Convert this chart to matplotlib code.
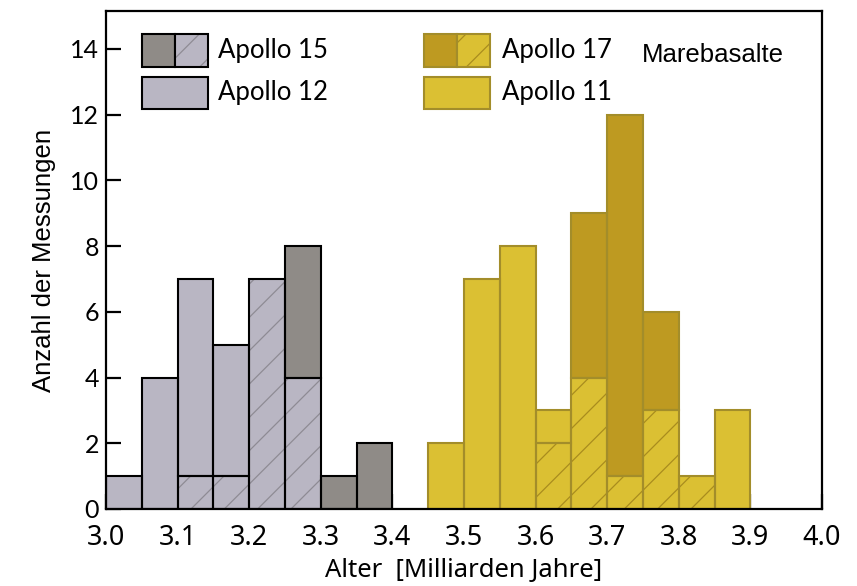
import numpy as np
from matplotlib import pyplot as plt
from matplotlib.patches import Rectangle

# bin starts (width 0.05 Ga)
bins_left = [3.00, 3.05, 3.10, 3.15, 3.20, 3.25, 3.30, 3.35]
apollo15_hatch = [0, 0, 1, 1, 7, 4, 0, 0]
apollo12 = [1, 4, 6, 4, 0, 0, 0, 0]
apollo15_solid = [0, 0, 0, 0, 0, 4, 1, 2]

bins_right = [3.45, 3.50, 3.55, 3.60, 3.65, 3.70, 3.75, 3.80, 3.85]
apollo17_hatch = [0, 0, 0, 2, 4, 1, 3, 1, 0]
apollo11 = [2, 7, 8, 1, 0, 0, 0, 0, 3]
apollo17_solid = [0, 0, 0, 0, 5, 11, 3, 0, 0]

x_ticks = [3.0, 3.1, 3.2, 3.3, 3.4, 3.5, 3.6, 3.7, 3.8, 3.9, 4.0]
y_ticks = [0, 2, 4, 6, 8, 10, 12, 14]

grey_light = '#b9b6c3'
grey_dark = '#8f8b87'
grey_hatch = '#8e8b94'
gold_light = '#dbc033'
gold_dark = '#be9a21'
gold_edge = '#a38d2a'
gold_hatch = '#a98c1e'

plt.rcParams['hatch.linewidth'] = 0.9

fig = plt.figure(figsize=(8.57, 5.86), dpi=100)
ax = fig.add_axes([106 / 857, 77 / 586, 716 / 857, 498 / 586])
W = 0.05


def draw_bars(x, h, bottom, face, edge, hatch=None, hatch_col=None):
    x = np.array(x)
    h = np.array(h, dtype=float)
    bottom = np.array(bottom, dtype=float)
    m = h > 0
    if hatch:
        ax.bar(x[m], h[m], W, bottom=bottom[m], align='edge', color=face,
               edgecolor=hatch_col, hatch=hatch, linewidth=0, zorder=2)
    else:
        ax.bar(x[m], h[m], W, bottom=bottom[m], align='edge', color=face,
               linewidth=0, zorder=2)
    ax.bar(x[m], h[m], W, bottom=bottom[m], align='edge', fill=False,
           edgecolor=edge, linewidth=1.5, zorder=3)


zl = np.zeros(len(bins_left))
draw_bars(bins_left, apollo15_hatch, zl, grey_light, 'black', '/', grey_hatch)
draw_bars(bins_left, apollo12, np.array(apollo15_hatch), grey_light, 'black')
draw_bars(bins_left, apollo15_solid, np.array(apollo15_hatch) + np.array(apollo12),
          grey_dark, 'black')

zr = np.zeros(len(bins_right))
draw_bars(bins_right, apollo17_hatch, zr, gold_light, gold_edge, '/', gold_hatch)
draw_bars(bins_right, apollo11, np.array(apollo17_hatch), gold_light, gold_edge)
draw_bars(bins_right, apollo17_solid, np.array(apollo17_hatch) + np.array(apollo11),
          gold_dark, gold_edge)

ax.set_xlim(3.0, 4.0)
ax.set_ylim(0, 15.15)
ax.set_xticks(x_ticks)
ax.set_xticklabels([f'{t:.1f}' for t in x_ticks], family='Noto Sans',
                   fontstretch='condensed', fontsize=19.5)
ax.set_yticks(y_ticks)
ax.set_yticklabels([str(t) for t in y_ticks], family='Lato', fontsize=18)
ax.tick_params(direction='in', length=11, width=1.6, zorder=5)
ax.tick_params(axis='x', pad=11)
ax.tick_params(axis='y', pad=5)
for s in ax.spines.values():
    s.set_linewidth(1.6)
    s.set_zorder(6)

ax.set_xlabel('Alter  [Milliarden Jahre]', family='Noto Sans', fontstretch='condensed',
              fontsize=18.5, labelpad=4)
ax.set_ylabel('Anzahl der Messungen', family='Liberation Sans', fontsize=18.5, labelpad=10)


# legend drawn by hand
def legend_box(x0, y0, w, h, face, edge, hatch=None, hatch_col=None):
    if hatch:
        ax.add_patch(Rectangle((x0, y0), w, h, transform=ax.transAxes, facecolor=face,
                               edgecolor=hatch_col, hatch=hatch, linewidth=0, zorder=4))
    else:
        ax.add_patch(Rectangle((x0, y0), w, h, transform=ax.transAxes, facecolor=face,
                               linewidth=0, zorder=4))
    ax.add_patch(Rectangle((x0, y0), w, h, transform=ax.transAxes, fill=False,
                           edgecolor=edge, linewidth=1.5, zorder=4))


bw = 0.046
legend_box(0.050, 0.888, bw, 0.065, grey_dark, 'black')
legend_box(0.050 + bw, 0.888, bw, 0.065, grey_light, 'black', '/', grey_hatch)
legend_box(0.050, 0.804, 2 * bw, 0.064, grey_light, 'black')
legend_box(0.444, 0.888, bw, 0.065, gold_dark, gold_edge)
legend_box(0.444 + bw, 0.888, bw, 0.065, gold_light, gold_edge, '/', gold_hatch)
legend_box(0.444, 0.804, 2 * bw, 0.064, gold_light, gold_edge)

for x, y, s in [(0.157, 0.921, 'Apollo 15'), (0.157, 0.836, 'Apollo 12'),
                (0.553, 0.921, 'Apollo 17'), (0.553, 0.836, 'Apollo 11')]:
    ax.text(x, y, s, transform=ax.transAxes, va='center', ha='left',
            family='Lato', fontsize=18.5)

ax.text(0.749, 0.912, 'Marebasalte', transform=ax.transAxes, va='center', ha='left',
        family='Liberation Sans', fontsize=18.5)

plt.savefig('out.png', dpi=100)
